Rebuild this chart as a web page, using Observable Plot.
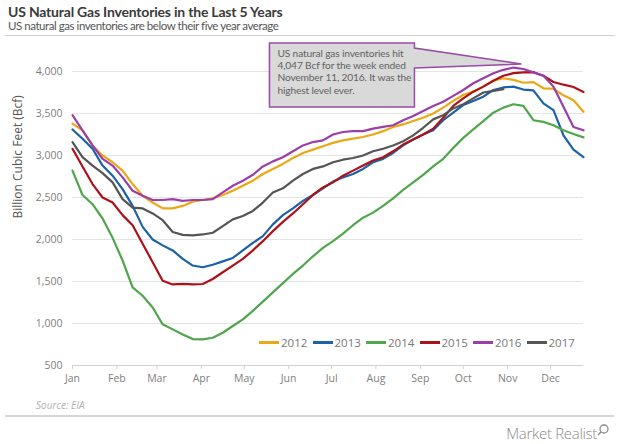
<!DOCTYPE html>
<html><head><meta charset="utf-8">
<script src="https://cdn.jsdelivr.net/npm/d3@7"></script>
<script src="https://cdn.jsdelivr.net/npm/@observablehq/plot@0.6"></script>
<style>
body{margin:0;width:620px;height:444px;position:relative;font-family:"Open Sans",sans-serif;background:#fff;overflow:hidden}
#title{position:absolute;left:8px;top:3px;font-family:Lato,sans-serif;font-size:14px;font-weight:700;color:#3a3a3a;letter-spacing:-0.2px;white-space:nowrap}
#subtitle{position:absolute;left:8px;top:19px;font-family:Lato,sans-serif;font-size:11.5px;color:#555;letter-spacing:-0.45px;white-space:nowrap}
#hr1{position:absolute;left:5px;right:5px;top:35px;height:1px;background:#d0d0d0}
#chart{position:absolute;left:0;top:40px}
#legend{position:absolute;left:259px;top:335px;display:flex;font-size:11.5px;color:#777}
#legend .item{display:flex;align-items:center;width:53.5px}
#legend .sw{width:20px;height:3px;margin-right:2px}
#source{position:absolute;left:36px;top:398px;font-size:10px;font-style:italic;color:#b0b0b0}
#hr2{position:absolute;left:5px;right:6px;top:415px;height:2px;background:#d6d6d6}
#logo{position:absolute;right:10px;top:423px;font-size:15px;color:#8a8a8a;letter-spacing:-0.3px;font-weight:300}
</style></head><body>
<div id="title">US Natural Gas Inventories in the Last 5 Years</div>
<div id="subtitle">US natural gas inventories are below their five year average</div>
<div id="hr1"></div>
<div id="chart"></div>
<div id="legend"></div>
<div id="source">Source: EIA</div>
<div id="hr2"></div>
<div id="logo">Market Realist<svg width="13" height="14" style="vertical-align:top"><circle cx="7" cy="6" r="4" fill="none" stroke="#8a8a8a" stroke-width="1.3"/><line x1="4" y1="9" x2="1" y2="12" stroke="#8a8a8a" stroke-width="1.5"/></svg></div>
<script>
const years = ["2012", "2013", "2014", "2015", "2016", "2017"];
const colors = ["#eba814", "#1c62a6", "#4fa64b", "#ad1218", "#9a3fa8", "#555555"];
const yTicks = [500, 1000, 1500, 2000, 2500, 3000, 3500, 4000];
const yLabel = "Billion Cubic Feet (Bcf)";
const annotationLines = ["US natural gas inventories hit", "4,047 Bcf for the week ended", "November 11, 2016. It was the", "highest level ever."];
const peakDate = "11-11"; // November 11
const peakValue = 4047;

// weekly inventories (Bcf), week 1 .. week 52
const inv2012 = [3380,3300,3120,3000,2920,2820,2660,2520,2440,2370,2370,2400,2450,2470,2490,2530,2580,2640,2700,2780,2840,2900,2970,3030,3070,3110,3150,3180,3200,3220,3250,3290,3340,3370,3410,3450,3500,3570,3650,3720,3760,3820,3890,3920,3900,3866,3874,3800,3795,3716,3657,3520];
const inv2013 = [3310,3200,3080,2880,2760,2600,2400,2150,2000,1930,1870,1770,1690,1670,1700,1740,1780,1870,1960,2040,2180,2290,2370,2460,2530,2610,2690,2740,2780,2840,2920,2960,3030,3120,3190,3250,3300,3420,3510,3600,3650,3700,3780,3810,3820,3785,3775,3620,3540,3240,3070,2980];
const inv2014 = [2820,2530,2420,2250,2020,1750,1430,1330,1190,990,930,870,815,812,830,890,970,1050,1150,1260,1370,1480,1590,1690,1800,1900,1980,2070,2170,2260,2320,2400,2490,2590,2680,2770,2870,2960,3090,3210,3310,3410,3510,3570,3610,3590,3420,3400,3360,3300,3256,3216];
const inv2015 = [3080,2870,2660,2500,2440,2290,2170,1950,1730,1510,1465,1472,1465,1470,1530,1610,1690,1770,1870,1980,2100,2210,2310,2420,2530,2620,2680,2760,2820,2880,2940,2980,3050,3130,3190,3250,3320,3450,3590,3680,3760,3820,3890,3950,3980,3990,3992,3950,3875,3843,3815,3756];
const inv2016 = [3480,3300,3120,2960,2880,2740,2580,2520,2470,2470,2480,2460,2470,2470,2480,2560,2640,2700,2770,2870,2930,2980,3050,3120,3160,3180,3250,3280,3290,3290,3320,3340,3360,3420,3470,3530,3590,3640,3710,3780,3860,3920,3980,4020,4047,4030,3990,3950,3820,3580,3340,3300];
const inv2017 = [3160,2980,2880,2790,2680,2480,2380,2370,2310,2230,2090,2055,2050,2060,2080,2160,2240,2280,2340,2440,2560,2610,2700,2780,2840,2870,2920,2950,2970,3000,3050,3080,3120,3170,3240,3330,3430,3480,3560,3610,3680,3750,3770,3790];
const series = [inv2012, inv2013, inv2014, inv2015, inv2016, inv2017];

// all years are drawn on one common calendar axis
const refYear = 2015;
const start = new Date(Date.UTC(refYear, 0, 1));
const weekDate = i => d3.utcDay.offset(start, 7 * i);
const rows = series.flatMap((vals, s) => vals.map((v, i) => ({year: years[s], date: weekDate(i), value: v})));
const end = weekDate(d3.max(series, s => s.length) - 1);
const months = d3.utcMonths(start, end);
const peak = {date: new Date(`${refYear}-${peakDate}T00:00:00Z`), value: peakValue};

function callout(index, scales, values, dimensions) {
  const tx = scales.x(peak.date), ty = scales.y(peak.value);
  const L = tx - 252, R = tx - 107, T = ty - 24, B = ty + 40;
  const g = d3.create("svg:g");
  g.append("path")
    .attr("d", `M${L},${T}H${R}V${T + 5}L${tx},${ty - 3}L${R},${T + 25}V${B}H${L}Z`)
    .attr("fill", "#d9d9d9").attr("stroke", "#9a4aa8").attr("stroke-width", 1.5);
  g.append("text").attr("font-family", "Lato, sans-serif").attr("font-size", 10.2).attr("fill", "#626262")
    .attr("text-anchor", "start").attr("letter-spacing", "-0.15")
    .selectAll("tspan").data(annotationLines).join("tspan")
    .attr("x", L + 8).attr("y", (d, i) => T + 14 + i * 12.2).text(d => d);
  return g.node();
}

const chart = Plot.plot({
  width: 620, height: 355,
  marginLeft: 72, marginRight: 37, marginTop: 31, marginBottom: 30,
  style: {fontFamily: "'Open Sans', sans-serif", fontSize: "10.5px", color: "#808080", background: "transparent"},
  x: {type: "utc", domain: [start, end]},
  y: {domain: [500, 4000]},
  color: {domain: years, range: colors},
  marks: [
    Plot.gridY(yTicks, {stroke: "#e4e4e4", strokeOpacity: 1, strokeWidth: 1}),
    Plot.axisY(yTicks, {tickSize: 0, tickPadding: 10, tickFormat: d3.format(","), label: null}),
    Plot.text([yLabel], {frameAnchor: "left", rotate: -90, dx: -54, fontSize: 12, fill: "#555", text: d => d}),
    Plot.ruleY([500], {stroke: "#d0d0d0"}),
    Plot.axisX(months, {tickFormat: "%b", tickSize: 4, stroke: "#d0d0d0", tickPadding: 5, label: null}),
    Plot.line(rows, {x: "date", y: "value", z: "year", stroke: "year", strokeWidth: 2.2}),
    callout
  ]
});
document.getElementById("chart").appendChild(chart);

const legend = d3.select("#legend");
years.forEach((y, i) => {
  const it = legend.append("div").attr("class", "item");
  it.append("div").attr("class", "sw").style("background", colors[i]);
  it.append("span").text(y);
});
</script>
</body></html>
